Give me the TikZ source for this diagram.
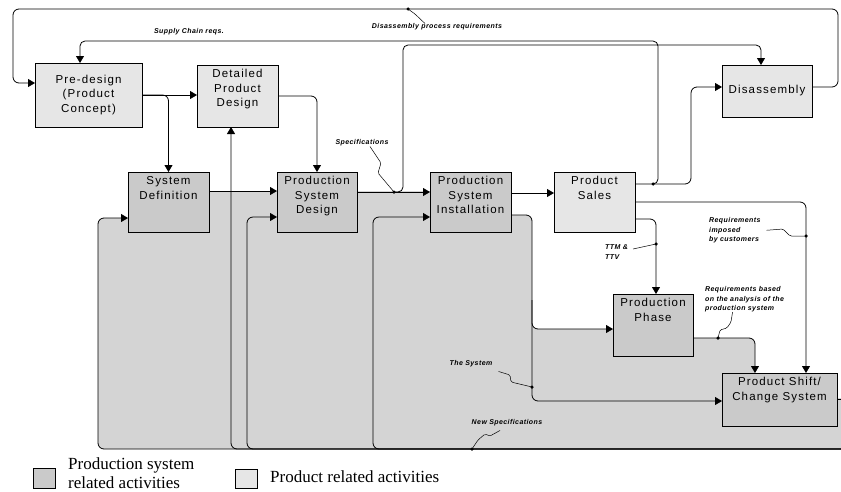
\documentclass[tikz,border=0pt]{standalone}
\usepackage{fontspec}
\setmainfont{Liberation Serif}
\newfontfamily\boxfont[LetterSpace=10]{Liberation Sans}
\newfontfamily\lblfont[LetterSpace=6]{Liberation Sans}
\usetikzlibrary{arrows.meta,backgrounds}
\definecolor{bgfill}{HTML}{D4D4D4}
\definecolor{psysfill}{HTML}{CACACA}
\definecolor{prodfill}{HTML}{E6E6E6}
\newcommand{\boxtxt}[3]{\parbox[c][#2][t]{#1}{\centering\rule{0pt}{12.5pt}#3}}
\newcommand{\boxtxtc}[3]{\parbox[c][#2][c]{#1}{\centering #3}}
\begin{document}
\begin{tikzpicture}[x=1pt,y=-1pt,
  box/.style={draw, line width=0.9pt, inner sep=0pt, outer sep=0pt, font=\boxfont\fontsize{11.5}{14.5}\selectfont},
  psys/.style={box, fill=psysfill},
  prod/.style={box, fill=prodfill},
  conn/.style={line width=0.8pt, rounded corners=6pt},
  arr/.style={conn, -{Triangle[length=7pt,width=8pt]}},
  squig/.style={line width=0.5pt, rounded corners=1.5pt},
  lbl/.style={font=\lblfont\bfseries\itshape\fontsize{7}{9.3}\selectfont, inner sep=0pt, align=left},
  jdot/.style={circle, fill, inner sep=0pt, minimum size=3.5pt},
  legtxt/.style={font=\fontsize{17}{18.5}\selectfont, inner sep=0pt, align=left, anchor=west}
]
\useasboundingbox (0,0) rectangle (841,491);

% boxes
\node[prod] (pre) at (88.5,95) {\boxtxtc{107pt}{64pt}{Pre-design\\(Product\\Concept)}};
\node[prod] (dpd) at (237.5,96) {\boxtxt{81pt}{62pt}{Detailed\\Product\\Design}};
\node[psys] (sd) at (168.5,202) {\boxtxt{81pt}{60pt}{System\\Definition}};
\node[psys] (psd) at (317,202) {\boxtxt{80pt}{60pt}{Production\\System\\Design}};
\node[psys] (psi) at (470.5,202) {\boxtxt{81pt}{60pt}{Production\\System\\Installation}};
\node[prod] (ps) at (594.5,202) {\boxtxt{81pt}{60pt}{Product\\Sales}};
\node[psys] (pp) at (653,325) {\boxtxt{80pt}{62pt}{Production\\Phase}};
\node[psys] (psh) at (779.5,399.5) {\boxtxt{115pt}{53pt}{Product Shift/\\Change System}};
\node[prod] (dis) at (767,91) {\boxtxtc{90pt}{52pt}{Disassembly}};

% shaded region
\begin{scope}[on background layer]
\fill[bgfill, rounded corners=6pt] (850,449) -- (98,449) -- (98,218) -- (150,218) -- (150,191) -- (470,191) -- (470,215) -- (532,215) -- (532,329) -- (650,329) -- (650,338) -- (755,338) -- (755,390) -- (830,390) -- (830,398) -- (850,398) -- cycle;
\end{scope}

% main flow
\draw[arr] (pre.east) -- (pre.east -| dpd.west);
\draw[arr] (pre.east) -| (sd.north);
\draw[arr] (dpd.east) -| (psd.north);
\draw[arr] ([yshift=11pt]sd.east) -- ([yshift=11pt]psd.west);
\draw[arr] ([yshift=10pt]psd.east) -- ([yshift=10pt]psi.west);
\draw[arr] ([yshift=9pt]psi.east) -- ([yshift=9pt]ps.west);

% product sales outputs
\draw[arr] ([yshift=18pt]ps.east) -| (691,120) |- ([yshift=4pt]dis.west);
\draw[arr] (ps.east) -| ([xshift=-31pt]psh.north east);
\draw[arr] ([yshift=-17pt]ps.east) -| ([xshift=3pt]pp.north);
\draw[arr] ([yshift=-13pt]pp.east) -| ([xshift=33pt]psh.north west);

% installation outputs
\draw[arr] ([yshift=-13pt]psi.east) -- (532,215) |- ([yshift=-1.5pt]psh.west);
\draw[arr] (532,300) |- ([yshift=-4pt]pp.west);

% shift/change output and feedback loops
\coordinate (loopR) at (850,449);
\draw[conn] (psh.east) -- ++(20,0);
\draw[arr] (loopR) -- (98,449) |- ([yshift=-16pt]sd.west);
\draw[arr] (loopR) -| ([xshift=-6.5pt]dpd.south);
\draw[arr] (loopR) -- (247,449) |- ([yshift=-15pt]psd.west);
\draw[arr] (loopR) -- (373,449) |- ([yshift=-15pt]psi.west);

% top loop
\draw[arr] ([yshift=4pt]dis.east) -- (838,87) |- (13,9) |- ([yshift=12pt]pre.west);

% junction dots
\node[jdot] (dA) at (653,184) {};
\node[jdot] (dB) at (394,192) {};
\node[jdot] (dD) at (408,9) {};
\node[jdot] (dT) at (656,244) {};
\node[jdot] (dR) at (806,236) {};
\node[jdot] (dQ) at (718,338) {};
\node[jdot] (dS) at (532,387) {};
\node[jdot] (dN) at (472,449) {};

% supply chain and specifications lines
\draw[arr, rounded corners=5pt] (dA.center) -- (658,184) -- (658,41) -| ([xshift=-8.5pt]pre.north);
\draw[arr, rounded corners=5pt] (dB.center) -- (403,192) -- (403,45) -| ([xshift=-6pt]dis.north);

% labels
\node[lbl] (lsc) at (189,32) {Supply Chain reqs.};
\node[lbl] (ldis) at (437,27) {Disassembly process requirements};
\node[lbl] (lspec) at (362,143) {Specifications};
\node[lbl, anchor=west] (lttm) at (605,252) {TTM \&\\TTV};
\node[lbl, anchor=north west] (limp) at (709,217.5) {Requirements\\imposed\\by customers};
\node[lbl, anchor=north west] (lbase) at (705,286.5) {Requirements based\\on the analysis of the\\production system};
\node[lbl] (lsys) at (471,364) {The System};
\node[lbl] (lnew) at (507,423) {New Specifications};

% squiggles
\draw[squig] (dD.center) -- (415,14) -- ([xshift=-12pt]ldis.north);
\draw[squig] ([xshift=8pt]lspec.south) -- (381,163) -- (378,173) -- (dB.center);
\draw[squig] (dT.center) -- ([xshift=5pt,yshift=3pt]lttm.east);
\draw[squig] ([xshift=6pt]limp.east) -- (783,229) -- (790,236) -- (dR.center);
\draw[squig] (dQ.center) -- (720,330) -- (727,328) -- (731,322) -- ([xshift=-12pt]lbase.south);
\draw[squig] ([xshift=6pt,yshift=-4pt]lsys.south east) -- (510,375) -- (511,382) -- (dS.center);
\draw[squig] (dN.center) -- (478,440) -- (485,434) -- (490,436) -- ([xshift=-7pt,yshift=-4pt]lnew.south);

% legend
\node[draw, line width=1pt, fill=psysfill, minimum width=22pt, minimum height=20pt, inner sep=0pt] (leg1) at (44,478) {};
\node[legtxt] (leg1t) at (68,473) {Production system\\related activities};
\node[draw, line width=1pt, fill=prodfill, minimum width=22pt, minimum height=19pt, inner sep=0pt] (leg2) at (246,478.5) {};
\node[legtxt] (leg2t) at (270,477) {Product related activities};
\end{tikzpicture}
\end{document}
